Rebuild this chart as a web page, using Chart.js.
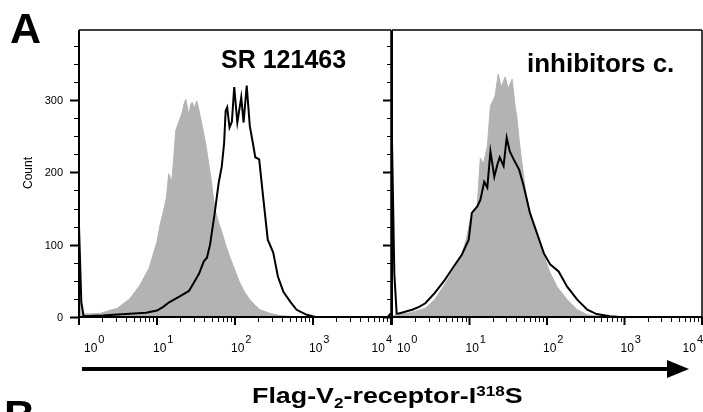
<!DOCTYPE html>
<html>
<head>
<meta charset="utf-8">
<script src="https://cdn.jsdelivr.net/npm/chart.js@4"></script>
<style>
  html, body { margin: 0; padding: 0; background: #fff; }
  #wrap { position: relative; width: 703px; height: 412px; }
  canvas { position: absolute; left: 0; top: 0; }
</style>
</head>
<body>
<div id="wrap">
  <canvas id="left" width="703" height="412"></canvas>
  <canvas id="right" width="703" height="412"></canvas>
</div>
<script>
// x values are log10 of the fluorescence (decades), y values are counts

// panel 1: SR 121463
const srGrayX = [0, 0.03, 0.06, 0.27, 0.42, 0.49, 0.55, 0.65, 0.78, 0.9, 0.96, 1.0, 1.04, 1.08, 1.12, 1.15, 1.19, 1.22, 1.24, 1.28, 1.32, 1.35, 1.37, 1.41, 1.43, 1.45, 1.48, 1.51, 1.54, 1.58, 1.63, 1.66, 1.69, 1.74, 1.78, 1.83, 1.88, 1.93, 1.98, 2.05, 2.12, 2.19, 2.26, 2.32, 2.45, 2.58, 2.8, 4];
const srGrayY = [60, 6, 4, 5, 10, 12, 17, 25, 44, 68, 90, 104, 128, 145, 165, 198, 188, 228, 258, 270, 282, 296, 301, 278, 294, 297, 289, 299, 285, 264, 236, 214, 194, 150, 134, 118, 100, 84, 70, 50, 35, 24, 16, 10, 5, 2, 0, 0];
const srLineX = [0, 0.03, 0.06, 0.3, 0.6, 0.86, 1.0, 1.08, 1.15, 1.28, 1.41, 1.47, 1.54, 1.6, 1.64, 1.68, 1.74, 1.79, 1.83, 1.86, 1.88, 1.9, 1.93, 1.96, 1.99, 2.03, 2.08, 2.11, 2.15, 2.19, 2.23, 2.26, 2.31, 2.36, 2.42, 2.49, 2.55, 2.62, 2.71, 2.79, 2.92, 3.03, 3.96, 3.99, 4];
const srLineY = [125, 20, 1, 2, 4, 6, 9, 14, 20, 28, 36, 47, 60, 77, 82, 100, 144, 185, 208, 240, 285, 290, 262, 270, 318, 269, 304, 269, 320, 264, 240, 221, 218, 167, 107, 89, 56, 35, 21, 10, 3, 0, 0, 4, 4];

// panel 2: inhibitors c.
const icGrayX = [0, 0.05, 0.2, 0.43, 0.55, 0.68, 0.81, 0.9, 0.96, 1.01, 1.06, 1.1, 1.14, 1.18, 1.23, 1.27, 1.31, 1.33, 1.37, 1.41, 1.46, 1.5, 1.55, 1.59, 1.61, 1.65, 1.72, 1.78, 1.87, 1.95, 2.04, 2.13, 2.26, 2.39, 2.52, 2.68, 2.9, 4];
const icGrayY = [0, 4, 5, 12, 24, 45, 68, 86, 108, 135, 145, 155, 220, 212, 236, 292, 301, 306, 336, 318, 332, 316, 329, 290, 278, 236, 176, 144, 111, 88, 61, 42, 24, 10, 3, 1, 0, 0];
const icLineX = [0, 0.03, 0.06, 0.09, 0.26, 0.35, 0.43, 0.55, 0.68, 0.81, 0.9, 0.99, 1.03, 1.1, 1.14, 1.19, 1.23, 1.27, 1.32, 1.36, 1.39, 1.44, 1.48, 1.52, 1.57, 1.64, 1.7, 1.78, 1.87, 1.96, 2.04, 2.15, 2.26, 2.39, 2.52, 2.64, 2.81, 2.94, 4];
const icLineY = [243, 60, 5, 5, 10, 14, 19, 33, 51, 72, 86, 107, 144, 153, 162, 187, 179, 229, 194, 211, 221, 209, 248, 229, 218, 204, 181, 144, 116, 88, 73, 63, 42, 24, 10, 4, 1, 0, 0];

// axis ticks
const xDecades = [0, 1, 2, 3, 4];
const xMinorFactors = [2, 3, 4, 5, 6, 7, 8, 9];
const yMajor = [0, 100, 200, 300];
const yLabels = ['0', '100', '200', '300'];
const yMinor = [25, 50, 75, 125, 150, 175, 225, 250, 275, 325, 350, 375];

const FONT = '"Liberation Sans", Arial, Helvetica, sans-serif';

function pts(xs, ys) {
  return xs.map((v, i) => ({ x: v, y: ys[i] }));
}

// frame, ticks and tick labels
const axesPlugin = {
  id: 'axesPlugin',
  afterDraw(chart, args, opts) {
    const { ctx, chartArea: a, scales } = chart;
    const sx = scales.x, sy = scales.y;
    ctx.save();
    ctx.strokeStyle = '#000';
    // top and right border
    ctx.lineWidth = 1.5;
    ctx.beginPath();
    ctx.moveTo(a.left, a.top); ctx.lineTo(a.right, a.top);
    ctx.moveTo(a.right, a.top); ctx.lineTo(a.right, a.bottom);
    ctx.stroke();
    // left and bottom axis
    ctx.lineWidth = 2;
    ctx.beginPath();
    ctx.moveTo(a.left, a.top); ctx.lineTo(a.left, a.bottom + 1);
    ctx.moveTo(a.left - 1, a.bottom); ctx.lineTo(a.right, a.bottom);
    ctx.stroke();

    // y ticks
    yMajor.forEach((v, i) => {
      const py = Math.round(sy.getPixelForValue(v)) + 0.5;
      ctx.lineWidth = 2;
      ctx.beginPath(); ctx.moveTo(a.left - 9, py); ctx.lineTo(a.left, py); ctx.stroke();
      if (opts.yLabels) {
        ctx.fillStyle = '#000';
        ctx.font = '11px ' + FONT;
        ctx.textAlign = 'right';
        ctx.textBaseline = 'middle';
        ctx.fillText(yLabels[i], a.left - 16, py);
      }
    });
    ctx.lineWidth = 1;
    yMinor.forEach(v => {
      const py = Math.round(sy.getPixelForValue(v)) + 0.5;
      ctx.beginPath(); ctx.moveTo(a.left - 5, py); ctx.lineTo(a.left, py); ctx.stroke();
    });

    // x ticks
    xDecades.forEach(d => {
      const px = sx.getPixelForValue(d);
      ctx.lineWidth = 2;
      ctx.beginPath(); ctx.moveTo(px, a.bottom); ctx.lineTo(px, a.bottom + 8); ctx.stroke();
      if (d < xDecades[xDecades.length - 1]) {
        ctx.lineWidth = 1;
        xMinorFactors.forEach(m => {
          const mx = Math.round(sx.getPixelForValue(d + Math.log10(m))) + 0.5;
          ctx.beginPath(); ctx.moveTo(mx, a.bottom); ctx.lineTo(mx, a.bottom + 5); ctx.stroke();
        });
      }
    });

    // x labels: "10" with superscript exponent
    ctx.fillStyle = '#000';
    ctx.textAlign = 'left';
    ctx.textBaseline = 'alphabetic';
    xDecades.forEach(d => {
      const px = sx.getPixelForValue(d);
      ctx.font = '12px ' + FONT;
      const wb = ctx.measureText('10').width;
      ctx.font = '11px ' + FONT;
      const we = ctx.measureText(String(d)).width;
      const total = wb + 1 + we;
      let start = px - 4;
      if (start < a.left + 5) start = a.left + 5;
      if (start + total > a.right + 1) start = a.right + 1 - total;
      ctx.font = '12px ' + FONT;
      ctx.fillText('10', start, 352);
      ctx.font = '11px ' + FONT;
      ctx.fillText(String(d), start + wb + 1, 343);
    });

    // panel title
    ctx.font = 'bold ' + opts.titleSize + 'px ' + FONT;
    ctx.fillText(opts.title, opts.titleX, opts.titleY);
    ctx.restore();
  }
};

// panel letters, y title, arrow and x title
const decorPlugin = {
  id: 'decorPlugin',
  afterDraw(chart) {
    const ctx = chart.ctx;
    ctx.save();
    ctx.fillStyle = '#000';
    ctx.textAlign = 'left';
    ctx.textBaseline = 'alphabetic';
    ctx.font = 'bold 43px ' + FONT;
    ctx.fillText('A', 10, 43);
    ctx.fillText('B', 4, 430);

    ctx.save();
    ctx.translate(32, 173);
    ctx.rotate(-Math.PI / 2);
    ctx.font = '12px ' + FONT;
    ctx.textAlign = 'center';
    ctx.fillText('Count', 0, 0);
    ctx.restore();

    // arrow
    ctx.strokeStyle = '#000';
    ctx.lineWidth = 4;
    ctx.beginPath(); ctx.moveTo(82, 369); ctx.lineTo(672, 369); ctx.stroke();
    ctx.beginPath();
    ctx.moveTo(667, 360); ctx.lineTo(689, 369); ctx.lineTo(667, 378); ctx.closePath();
    ctx.fill();

    // x title with sub/superscripts
    ctx.save();
    ctx.translate(252, 0);
    ctx.scale(1.22, 1);
    let cx = 0;
    const part = (txt, size, dy) => {
      ctx.font = 'bold ' + size + 'px ' + FONT;
      ctx.fillText(txt, cx, 403 + dy);
      cx += ctx.measureText(txt).width;
    };
    part('Flag-V', 22, 0);
    part('2', 14, 5);
    part('-receptor-I', 22, 0);
    part('318', 14, -7);
    part('S', 22, 0);
    ctx.restore();
    ctx.restore();
  }
};

function makePanel(id, line, gray, padding, opts, extra) {
  return new Chart(document.getElementById(id), {
    type: 'line',
    data: {
      datasets: [
        { data: line, borderColor: '#000', borderWidth: 2, pointRadius: 0, fill: false, tension: 0, order: 1 },
        { data: gray, borderColor: '#b3b3b3', backgroundColor: '#b3b3b3', borderWidth: 1, pointRadius: 0, fill: 'origin', tension: 0, order: 2 }
      ]
    },
    options: {
      responsive: false,
      animation: false,
      devicePixelRatio: 1,
      layout: { padding: padding },
      scales: {
        x: { type: 'linear', min: 0, max: 4, display: false },
        y: { type: 'linear', min: 0, max: 397, display: false }
      },
      plugins: {
        legend: { display: false },
        tooltip: { enabled: false },
        axesPlugin: opts
      }
    },
    plugins: [axesPlugin].concat(extra)
  });
}

makePanel('left', pts(srLineX, srLineY), pts(srGrayX, srGrayY),
  { left: 79, right: 312, top: 30, bottom: 95 },
  { yLabels: true, title: 'SR 121463', titleSize: 25, titleX: 221, titleY: 68 },
  [decorPlugin]);

makePanel('right', pts(icLineX, icLineY), pts(icGrayX, icGrayY),
  { left: 392, right: 1, top: 30, bottom: 95 },
  { yLabels: false, title: 'inhibitors c.', titleSize: 26, titleX: 527, titleY: 72 },
  []);
</script>
</body>
</html>
